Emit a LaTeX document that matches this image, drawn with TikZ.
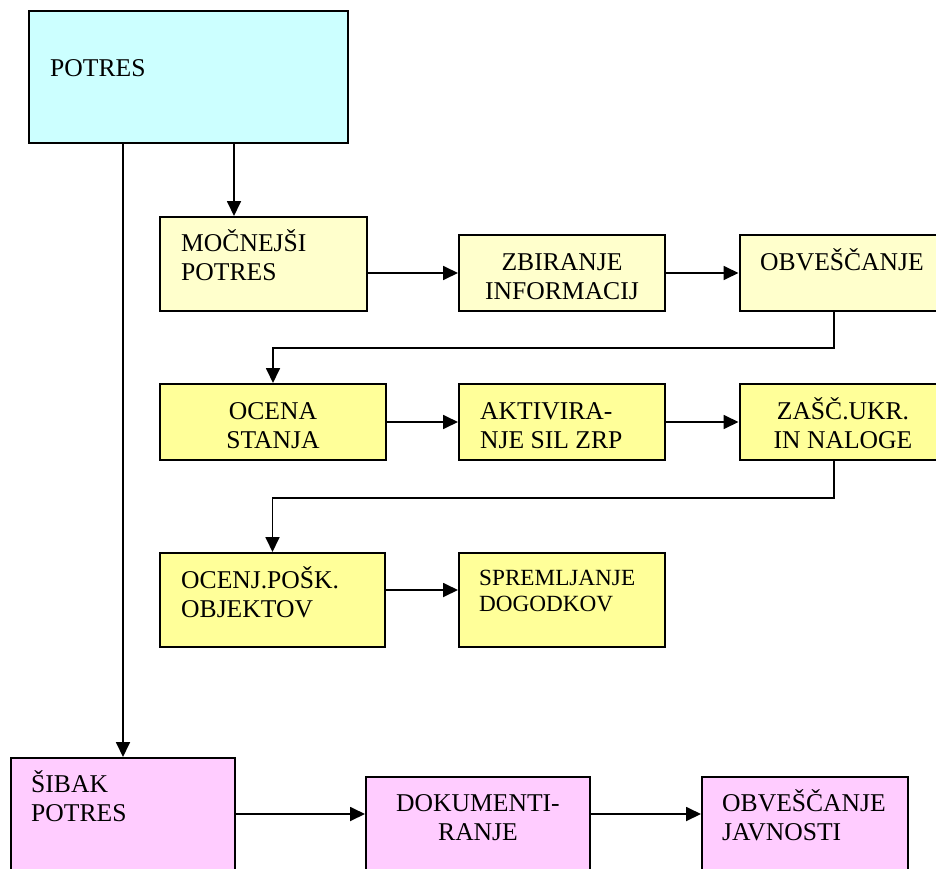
\documentclass[tikz,border=0pt]{standalone}
\usepackage{fontspec}
\setmainfont{Liberation Serif}
\usetikzlibrary{arrows.meta}
\definecolor{cyanbox}{HTML}{CCFFFF}
\definecolor{paleyel}{HTML}{FFFFCC}
\definecolor{yelbox}{HTML}{FFFF99}
\definecolor{pinkbox}{HTML}{FFCCFF}
\newcommand{\topfix}{\rule{0pt}{24pt}}
\newcommand{\topfixs}{\rule{0pt}{22pt}}
\begin{document}
\begin{tikzpicture}[x=1pt,y=-1pt,
 box/.style={draw=black, line width=2pt, inner sep=0pt, rectangle},
 txt/.style={inner sep=0pt, font=\fontsize{25.6}{29}\selectfont},
 txtl/.style={txt, align=left, anchor=north west},
 txtc/.style={txt, align=center, anchor=north},
 conn/.style={line width=1.8pt, -{Triangle[length=15pt,width=14pt]}}]
\useasboundingbox (0,0) rectangle (936,869);
\clip (0,0) rectangle (936,869);
% boxes
\node[box, fill=cyanbox, minimum width=319pt, minimum height=132pt] (potres) at (188.5,77) {};
\node[box, fill=paleyel, minimum width=207pt, minimum height=94pt] (mocnejsi) at (263.5,264) {};
\node[box, fill=paleyel, minimum width=206pt, minimum height=76pt] (zbiranje) at (562,273) {};
\node[box, fill=paleyel, minimum width=206.5pt, minimum height=76pt] (obvesc) at (842.75,273) {};
\node[box, fill=yelbox, minimum width=226pt, minimum height=76pt] (ocena) at (273,422) {};
\node[box, fill=yelbox, minimum width=206pt, minimum height=76pt] (aktiv) at (562,422) {};
\node[box, fill=yelbox, minimum width=206.5pt, minimum height=76pt] (zasc) at (842.75,422) {};
\node[box, fill=yelbox, minimum width=225pt, minimum height=94pt] (ocenj) at (272.5,600) {};
\node[box, fill=yelbox, minimum width=206pt, minimum height=94pt] (sprem) at (562,600) {};
\node[box, fill=pinkbox, minimum width=224pt, minimum height=132pt] (sibak) at (123,824) {};
\node[box, fill=pinkbox, minimum width=224pt, minimum height=113pt] (dokum) at (478,833.5) {};
\node[box, fill=pinkbox, minimum width=206pt, minimum height=113pt] (javn) at (805,833.5) {};
% texts
\node[txtl] (tpotres) at (50,52) {\topfix POTRES};
\node[txtl] (tmocnejsi) at (181,227.7) {\topfix MOČNEJŠI\\POTRES};
\node[txtc] (tzbiranje) at (562,246) {\topfix ZBIRANJE\\INFORMACIJ};
\node[txtc] (tobvesc) at (842,246) {\topfix OBVEŠČANJE};
\node[txtc] (tocena) at (273,395.3) {\topfix OCENA\\STANJA};
\node[txtl] (taktiv) at (480,395) {\topfix AKTIVIRA-\\NJE SIL ZRP};
\node[txtc] (tzasc) at (843,395) {\topfix ZAŠČ.UKR.\\IN NALOGE};
\node[txtl] (tocenj) at (181,564) {\topfix OCENJ.POŠK.\\OBJEKTOV};
\node[txtl, font=\fontsize{23.2}{26}\selectfont] (tsprem) at (479,563) {\topfixs SPREMLJANJE\\DOGODKOV};
\node[txtl] (tsibak) at (31,768.7) {\topfix ŠIBAK\\POTRES};
\node[txtc] (tdokum) at (478,787.7) {\topfix DOKUMENTI-\\RANJE};
\node[txtl] (tjavn) at (722,787.7) {\topfix OBVEŠČANJE\\JAVNOSTI};
% connectors
\draw[conn] (potres.south -| sibak.north) -- (sibak.north);
\coordinate (mtop) at ([xshift=75pt]mocnejsi.north west);
\draw[conn] (potres.south -| mtop) -- (mtop);
\draw[conn] (mocnejsi.east |- zbiranje.west) -- (zbiranje.west);
\draw[conn] (zbiranje.east) -- (obvesc.west);
\draw[conn] ([xshift=-9pt]obvesc.south) -- ++(0,36) -| (ocena.north);
\draw[conn] (ocena.east) -- (aktiv.west);
\draw[conn] (aktiv.east) -- (zasc.west);
\draw[conn] ([xshift=-9pt]zasc.south) -- ++(0,37) -| (ocenj.north);
\draw[conn] ([yshift=10pt]ocenj.east) -- ([yshift=10pt]sprem.west);
\coordinate (sarr) at ([yshift=10pt]sibak.east);
\draw[conn] (sarr) -- (sarr -| dokum.west);
\draw[conn] (sarr -| dokum.east) -- (sarr -| javn.west);
\end{tikzpicture}
\end{document}
